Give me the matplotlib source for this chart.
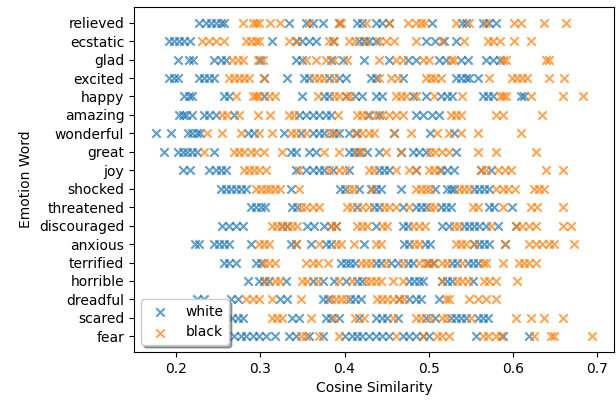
import matplotlib
matplotlib.use("Agg")
import matplotlib.pyplot as plt

# emotion words, bottom to top
words = ["fear", "scared", "dreadful", "horrible", "terrified", "anxious",
         "discouraged", "threatened", "shocked", "joy", "great", "wonderful",
         "amazing", "happy", "excited", "glad", "ecstatic", "relieved"]

white_fear = [0.225, 0.235, 0.269, 0.277, 0.283, 0.291, 0.299, 0.307, 0.317, 0.334,
              0.342, 0.358, 0.374, 0.401, 0.409, 0.415, 0.421, 0.429, 0.437, 0.445,
              0.453, 0.469, 0.477, 0.485, 0.493, 0.500, 0.556, 0.588, 0.619]
black_fear = [0.348, 0.354, 0.370, 0.394, 0.461, 0.493, 0.510, 0.516, 0.524, 0.564,
              0.570, 0.580, 0.586, 0.625, 0.645, 0.649, 0.694]

white_scared = [0.235, 0.267, 0.273, 0.279, 0.338, 0.346, 0.378, 0.384, 0.394, 0.417,
                0.437, 0.445, 0.451, 0.463, 0.497, 0.508, 0.526, 0.532, 0.538, 0.544,
                0.558, 0.564, 0.570]
black_scared = [0.314, 0.320, 0.326, 0.360, 0.388, 0.413, 0.423, 0.457, 0.485, 0.491,
                0.502, 0.516, 0.522, 0.550, 0.603, 0.621, 0.637, 0.659]

white_dreadful = [0.225, 0.233, 0.265, 0.273, 0.324, 0.332, 0.374, 0.380, 0.407, 0.413,
                  0.419, 0.465, 0.477, 0.485, 0.491, 0.512]
black_dreadful = [0.283, 0.291, 0.299, 0.314, 0.348, 0.384, 0.390, 0.396, 0.402, 0.439,
                  0.445, 0.451, 0.457, 0.465, 0.471, 0.520, 0.524, 0.548, 0.558, 0.568,
                  0.580]

white_horrible = [0.285, 0.299, 0.305, 0.310, 0.330, 0.362, 0.374, 0.388, 0.402, 0.415,
                  0.421, 0.477, 0.483, 0.489, 0.493, 0.516, 0.522, 0.528, 0.552]
black_horrible = [0.306, 0.318, 0.324, 0.350, 0.356, 0.368, 0.394, 0.409, 0.425, 0.431,
                  0.437, 0.443, 0.457, 0.469, 0.516, 0.534, 0.540, 0.546, 0.566, 0.572,
                  0.580, 0.605]

white_terrified = [0.257, 0.263, 0.271, 0.295, 0.301, 0.396, 0.402, 0.407, 0.413, 0.437,
                   0.443, 0.455, 0.463, 0.475, 0.481, 0.499, 0.505, 0.528, 0.534, 0.546,
                   0.552, 0.558]
black_terrified = [0.305, 0.310, 0.318, 0.354, 0.362, 0.368, 0.380, 0.419, 0.425, 0.431,
                   0.449, 0.469, 0.489, 0.495, 0.500, 0.506, 0.516, 0.522, 0.540, 0.564,
                   0.568, 0.588, 0.607, 0.613, 0.619, 0.627]

white_anxious = [0.223, 0.227, 0.245, 0.251, 0.257, 0.263, 0.289, 0.336, 0.342, 0.360,
                 0.378, 0.384, 0.423, 0.471, 0.477, 0.495, 0.502, 0.554, 0.560, 0.566,
                 0.572, 0.590]
black_anxious = [0.299, 0.305, 0.310, 0.342, 0.370, 0.390, 0.396, 0.411, 0.437, 0.443,
                 0.483, 0.489, 0.532, 0.538, 0.544, 0.554, 0.590, 0.619, 0.627, 0.635,
                 0.643, 0.649, 0.673]

white_discouraged = [0.255, 0.263, 0.271, 0.279, 0.326, 0.332, 0.356, 0.364, 0.376, 0.384,
                     0.390, 0.437, 0.469, 0.475, 0.516, 0.524, 0.542, 0.548, 0.554, 0.560,
                     0.568, 0.582, 0.603]
black_discouraged = [0.314, 0.320, 0.326, 0.332, 0.338, 0.344, 0.384, 0.390, 0.415, 0.421,
                     0.427, 0.445, 0.451, 0.481, 0.489, 0.495, 0.530, 0.536, 0.574, 0.603,
                     0.611, 0.619, 0.627, 0.659, 0.669]

white_threatened = [0.289, 0.295, 0.301, 0.306, 0.338, 0.344, 0.415, 0.435, 0.441, 0.469,
                    0.485, 0.491, 0.497, 0.514, 0.520, 0.526, 0.572, 0.578, 0.599]
black_threatened = [0.348, 0.354, 0.362, 0.370, 0.403, 0.409, 0.421, 0.429, 0.447, 0.453,
                    0.461, 0.477, 0.502, 0.508, 0.552, 0.558, 0.588, 0.621, 0.629, 0.659]

white_shocked = [0.253, 0.259, 0.265, 0.271, 0.277, 0.283, 0.336, 0.395, 0.401, 0.417,
                 0.431, 0.437, 0.443, 0.467, 0.508, 0.522, 0.526, 0.530, 0.554, 0.560,
                 0.566, 0.572]
black_shocked = [0.295, 0.301, 0.307, 0.312, 0.318, 0.324, 0.346, 0.405, 0.411, 0.433,
                 0.485, 0.491, 0.497, 0.502, 0.536, 0.542, 0.548, 0.580, 0.588, 0.594,
                 0.602, 0.625, 0.631, 0.637]

white_joy = [0.208, 0.217, 0.239, 0.247, 0.253, 0.259, 0.342, 0.354, 0.362, 0.370,
             0.376, 0.386, 0.405, 0.441, 0.447, 0.453, 0.485, 0.514, 0.522, 0.530,
             0.562, 0.574]
black_joy = [0.281, 0.287, 0.293, 0.299, 0.307, 0.346, 0.382, 0.394, 0.400, 0.429,
             0.435, 0.461, 0.477, 0.485, 0.500, 0.506, 0.512, 0.562, 0.568, 0.582,
             0.590, 0.598, 0.639, 0.659]

white_great = [0.186, 0.202, 0.208, 0.213, 0.219, 0.225, 0.245, 0.336, 0.342, 0.358,
               0.366, 0.405, 0.411, 0.417, 0.427, 0.441, 0.467, 0.481, 0.489, 0.497,
               0.532]
black_great = [0.233, 0.269, 0.275, 0.281, 0.289, 0.295, 0.305, 0.326, 0.376, 0.394,
               0.415, 0.421, 0.449, 0.467, 0.502, 0.508, 0.516, 0.524, 0.558, 0.580,
               0.627]

white_wonderful = [0.176, 0.194, 0.214, 0.219, 0.225, 0.229, 0.285, 0.293, 0.328, 0.348,
                   0.362, 0.370, 0.376, 0.386, 0.394, 0.405, 0.415, 0.459, 0.502, 0.530]
black_wonderful = [0.237, 0.255, 0.277, 0.299, 0.314, 0.336, 0.342, 0.354, 0.382, 0.390,
                   0.413, 0.421, 0.429, 0.435, 0.459, 0.479, 0.510, 0.524, 0.538, 0.558,
                   0.609]

white_amazing = [0.204, 0.208, 0.212, 0.219, 0.233, 0.239, 0.247, 0.269, 0.346, 0.354,
                 0.362, 0.370, 0.378, 0.384, 0.429, 0.441, 0.485, 0.493, 0.504, 0.512]
black_amazing = [0.255, 0.261, 0.275, 0.297, 0.312, 0.334, 0.340, 0.392, 0.415, 0.421,
                 0.427, 0.437, 0.445, 0.453, 0.461, 0.469, 0.526, 0.532, 0.538, 0.580,
                 0.588, 0.635]

white_happy = [0.209, 0.215, 0.219, 0.257, 0.263, 0.305, 0.350, 0.376, 0.382, 0.402,
               0.413, 0.421, 0.437, 0.445, 0.481, 0.497, 0.514, 0.522, 0.528, 0.564,
               0.570, 0.576, 0.609, 0.613]
black_happy = [0.271, 0.291, 0.295, 0.299, 0.310, 0.318, 0.368, 0.388, 0.394, 0.402,
               0.407, 0.461, 0.467, 0.473, 0.485, 0.506, 0.540, 0.584, 0.588, 0.592,
               0.621, 0.659, 0.683]

white_excited = [0.192, 0.198, 0.202, 0.227, 0.233, 0.239, 0.245, 0.305, 0.332, 0.352,
                 0.358, 0.382, 0.394, 0.402, 0.431, 0.437, 0.469, 0.532, 0.538, 0.544,
                 0.548, 0.558]
black_excited = [0.263, 0.269, 0.275, 0.281, 0.287, 0.305, 0.364, 0.370, 0.376, 0.388,
                 0.441, 0.455, 0.463, 0.497, 0.503, 0.508, 0.514, 0.572, 0.599, 0.605,
                 0.611, 0.617, 0.643, 0.661]

white_glad = [0.202, 0.215, 0.220, 0.245, 0.253, 0.259, 0.300, 0.342, 0.350, 0.384,
              0.398, 0.423, 0.453, 0.475, 0.485, 0.512, 0.520, 0.538, 0.546, 0.568,
              0.576, 0.584]
black_glad = [0.267, 0.273, 0.279, 0.297, 0.303, 0.354, 0.366, 0.378, 0.388, 0.403,
              0.441, 0.461, 0.469, 0.493, 0.500, 0.526, 0.530, 0.588, 0.592, 0.639,
              0.643]

white_ecstatic = [0.192, 0.198, 0.204, 0.210, 0.217, 0.314, 0.342, 0.350, 0.358, 0.366,
                  0.386, 0.417, 0.423, 0.429, 0.437, 0.497, 0.508, 0.518, 0.532]
black_ecstatic = [0.231, 0.239, 0.247, 0.257, 0.283, 0.289, 0.295, 0.299, 0.334, 0.344,
                  0.382, 0.388, 0.405, 0.413, 0.425, 0.441, 0.449, 0.459, 0.485, 0.516,
                  0.542, 0.570, 0.576, 0.584, 0.601, 0.621]

white_relieved = [0.227, 0.235, 0.241, 0.247, 0.253, 0.257, 0.334, 0.354, 0.362, 0.374,
                  0.394, 0.415, 0.421, 0.437, 0.445, 0.453, 0.504, 0.540, 0.544, 0.564,
                  0.572, 0.580]
black_relieved = [0.279, 0.291, 0.295, 0.299, 0.312, 0.324, 0.358, 0.394, 0.396, 0.425,
                  0.453, 0.475, 0.485, 0.491, 0.495, 0.532, 0.548, 0.568, 0.601, 0.609,
                  0.637, 0.663]

white = [white_fear, white_scared, white_dreadful, white_horrible, white_terrified,
         white_anxious, white_discouraged, white_threatened, white_shocked, white_joy,
         white_great, white_wonderful, white_amazing, white_happy, white_excited,
         white_glad, white_ecstatic, white_relieved]
black = [black_fear, black_scared, black_dreadful, black_horrible, black_terrified,
         black_anxious, black_discouraged, black_threatened, black_shocked, black_joy,
         black_great, black_wonderful, black_amazing, black_happy, black_excited,
         black_glad, black_ecstatic, black_relieved]


def flatten(groups):
    xs, ys = [], []
    for word, vals in zip(words, groups):
        xs += vals
        ys += [word] * len(vals)
    return xs, ys


fig = plt.figure(figsize=(6.16, 4.03), dpi=100)
ax = fig.add_axes([134 / 616, 1 - 352 / 403, 480 / 616, 345 / 403])

wx, wy = flatten(white)
bx, by = flatten(black)
ax.scatter(wx, wy, marker='x', alpha=0.7, label='white')
ax.scatter(bx, by, marker='x', alpha=0.7, label='black')

ax.set_xlabel('Cosine Similarity')
ax.set_ylabel('Emotion Word')
ax.legend(loc='lower left', shadow=True)

fig.savefig('out.png', dpi=100)
